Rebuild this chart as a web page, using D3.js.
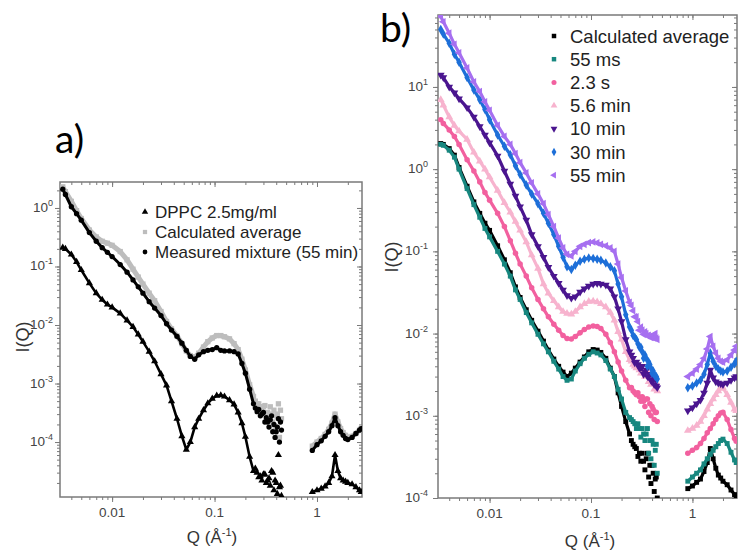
<!DOCTYPE html>
<html>
<head>
<meta charset="utf-8">
<script src="https://cdn.jsdelivr.net/npm/d3@7"></script>
<style>
  body { margin: 0; background: #fff; }
  text { font-family: "Liberation Sans", Arial, sans-serif; }
</style>
</head>
<body>
<svg id="chart" width="740" height="554"></svg>
<script>
// Q grids (1/A)
var qLow = [0.0033, 0.0035, 0.004, 0.0045, 0.005, 0.006, 0.007, 0.008, 0.009, 0.010,
  0.012, 0.014, 0.016, 0.018, 0.020, 0.023, 0.026, 0.030, 0.034, 0.038,
  0.043, 0.048, 0.053, 0.058, 0.064, 0.070, 0.078, 0.086, 0.095, 0.105,
  0.115, 0.125, 0.14, 0.155, 0.17, 0.185, 0.20, 0.22, 0.24, 0.27,
  0.30, 0.33, 0.36, 0.40, 0.44];
var qTail = [0.25, 0.26, 0.28, 0.29, 0.31, 0.32, 0.34, 0.35, 0.37, 0.38, 0.39, 0.41, 0.42, 0.43, 0.45];
var qHigh = [0.9, 1.0, 1.1, 1.2, 1.3, 1.4, 1.5, 1.6, 1.7, 1.8, 1.9, 2.0, 2.2, 2.4, 2.6, 2.7];

// panel a
var dppcLow = [0.21, 0.2, 0.16, 0.12, 0.087, 0.052, 0.035, 0.027, 0.0224, 0.02,
  0.0158, 0.012, 0.0093, 0.0069, 0.0052, 0.0035, 0.0024, 0.00145, 0.00093, 0.0005,
  0.00025, 0.000126, 0.000074, 0.0001, 0.00018, 0.00025, 0.00035, 0.00046, 0.00055, 0.00062,
  0.00063, 0.0006, 0.00052, 0.00044, 0.00032, 0.00021, 0.000123, 0.000056, 0.000032, 0.000025,
  0.000028, 0.000022, 0.000032, 0.00002, 0.000018];
var dppcTail = [0.000035, 0.00003, 0.000026, 0.000022, 0.000028, 0.00002, 0.000024, 0.000018, 0.00003, 0.000015, 0.000022, 0.000013, 0.00006, 0.000017, 0.000012];
var dppcHigh = [1.4e-5, 1.5e-5, 1.6e-5, 1.75e-5, 2.0e-5, 2.6e-5, 6.0e-5, 3.2e-5, 2.4e-5, 2.2e-5, 2.1e-5, 2.0e-5, 1.9e-5, 1.7e-5, 1.5e-5, 1.4e-5];
var avgALow = [2.3, 1.9, 1.3, 0.9, 0.66, 0.42, 0.32, 0.27, 0.25, 0.23,
  0.18, 0.13, 0.09, 0.066, 0.05, 0.035, 0.026, 0.017, 0.0115, 0.0086,
  0.0065, 0.0048, 0.0036, 0.003, 0.0028, 0.0033, 0.0042, 0.0052, 0.006, 0.0066,
  0.0066, 0.0063, 0.0058, 0.0048, 0.0038, 0.0026, 0.0017, 0.00095, 0.0006, 0.00045,
  0.0004, 0.00032, 0.0003, 0.00028, 0.00035];
var avgATail = [0.0005, 0.00045, 0.0004, 0.00035, 0.00042, 0.0003, 0.00025, 0.0004, 0.00022, 0.00035, 0.00018, 0.0003, 0.00045, 0.00012, 0.00025];
var avgAHigh = [8.5e-5, 1.0e-4, 1.15e-4, 1.35e-4, 1.65e-4, 2.1e-4, 3.0e-4, 2.2e-4, 1.7e-4, 1.45e-4, 1.3e-4, 1.2e-4, 1.25e-4, 1.4e-4, 1.6e-4, 1.7e-4];
var mixLow = [2.1, 1.7, 1.05, 0.8, 0.62, 0.38, 0.27, 0.21, 0.175, 0.148,
  0.108, 0.08, 0.059, 0.045, 0.035, 0.025, 0.0195, 0.0145, 0.0105, 0.0082,
  0.0064, 0.0049, 0.0037, 0.0029, 0.0026, 0.0031, 0.0035, 0.0037, 0.0038, 0.0041,
  0.0037, 0.0036, 0.0036, 0.0035, 0.0032, 0.0022, 0.0015, 0.0008, 0.00045, 0.00036,
  0.00032, 0.00022, 0.00028, 0.00015, 0.00022];
var mixTail = [0.00038, 0.00033, 0.00028, 0.0003, 0.00022, 0.00026, 0.00018, 0.00024, 0.00015, 0.0002, 0.00012, 0.00018, 0.00025, 0.0001, 0.00016];
var mixHigh = [7.2e-5, 9.0e-5, 1.05e-4, 1.25e-4, 1.5e-4, 1.9e-4, 2.6e-4, 1.9e-4, 1.5e-4, 1.3e-4, 1.15e-4, 1.1e-4, 1.2e-4, 1.4e-4, 1.6e-4, 1.7e-4];

// panel b
var avgBLow = [2.05, 2.0, 1.78, 1.48, 1.05, 0.62, 0.40, 0.29, 0.22, 0.18,
  0.117, 0.079, 0.055, 0.037, 0.0275, 0.0195, 0.0145, 0.0107, 0.0081, 0.0063,
  0.0049, 0.004, 0.0034, 0.003, 0.0033, 0.0038, 0.0045, 0.0052, 0.006, 0.0064,
  0.0063, 0.0059, 0.005, 0.0038, 0.003, 0.0019, 0.0013, 0.00085, 0.0006, 0.00042,
  0.00035, 0.00028, 0.00035, 0.00025, 0.00018];
var avgBTail = [0.0005, 0.00045, 0.0004, 0.00032, 0.00028, 0.00035, 0.00022, 0.0003, 0.00018, 0.00025, 0.00015, 0.0002, 0.00012, 0.00017, 0.0001];
var avgBHigh = [1.3e-4, 1.4e-4, 1.55e-4, 1.7e-4, 2.1e-4, 2.7e-4, 4.0e-4, 3.0e-4, 2.3e-4, 1.9e-4, 1.75e-4, 1.6e-4, 1.45e-4, 1.25e-4, 1.1e-4, 1.05e-4];
var ms55Low = [2.0, 1.95, 1.7, 1.4, 1.0, 0.58, 0.37, 0.26, 0.19, 0.15,
  0.10, 0.07, 0.05, 0.034, 0.026, 0.018, 0.0135, 0.0098, 0.0075, 0.006,
  0.0046, 0.0037, 0.003, 0.0027, 0.0028, 0.0035, 0.0043, 0.005, 0.0056, 0.006,
  0.0058, 0.0055, 0.0047, 0.0037, 0.003, 0.0021, 0.0016, 0.0011, 0.00095, 0.0008,
  0.0007, 0.0006, 0.0007, 0.0005, 0.00045];
var ms55Tail = [0.0009, 0.00085, 0.0007, 0.0008, 0.00055, 0.0007, 0.0005, 0.0006, 0.00035, 0.0005, 0.0003, 0.00045, 0.00025, 0.00038, 0.0002];
var ms55High = [1.6e-4, 1.8e-4, 2.0e-4, 2.2e-4, 2.6e-4, 3.0e-4, 3.4e-4, 3.8e-4, 4.2e-4, 4.6e-4, 5.0e-4, 5.2e-4, 4.6e-4, 3.6e-4, 2.9e-4, 2.7e-4];
var s23Low = [4.0, 3.6, 3.0, 2.5, 2.0, 1.3, 0.95, 0.7, 0.52, 0.42,
  0.29, 0.2, 0.135, 0.095, 0.07, 0.05, 0.036, 0.026, 0.02, 0.016,
  0.013, 0.011, 0.0095, 0.0087, 0.0086, 0.0092, 0.0102, 0.0112, 0.012, 0.0124,
  0.0122, 0.0115, 0.0098, 0.0078, 0.006, 0.0045, 0.0035, 0.0027, 0.0022, 0.0019,
  0.0017, 0.0015, 0.0016, 0.0013, 0.0011];
var s23Tail = [0.0022, 0.002, 0.0018, 0.0019, 0.0015, 0.0017, 0.0013, 0.0016, 0.0011, 0.0014, 0.001, 0.0012, 0.0009, 0.0011, 0.00085];
var s23High = [3.5e-4, 3.8e-4, 4.1e-4, 4.6e-4, 5.3e-4, 6.2e-4, 7.0e-4, 8.0e-4, 9.0e-4, 1.0e-3, 1.08e-3, 1.1e-3, 9.0e-4, 6.8e-4, 5.3e-4, 4.9e-4];
var m56Low = [7.0, 6.0, 4.3, 3.4, 2.9, 2.3, 1.6, 1.25, 1.0, 0.8,
  0.55, 0.39, 0.3, 0.23, 0.18, 0.13, 0.09, 0.062, 0.04, 0.031,
  0.025, 0.021, 0.0185, 0.0175, 0.0172, 0.0185, 0.021, 0.023, 0.0245, 0.0248,
  0.0242, 0.023, 0.021, 0.018, 0.0145, 0.0105, 0.0085, 0.006, 0.0048, 0.004,
  0.0036, 0.0033, 0.0035, 0.0028, 0.0025];
var m56Tail = [0.0046, 0.0042, 0.0038, 0.004, 0.0033, 0.0036, 0.003, 0.0034, 0.0026, 0.003, 0.0024, 0.0028, 0.0021, 0.0026, 0.002];
var m56High = [6.6e-4, 7.0e-4, 7.6e-4, 8.5e-4, 1.0e-3, 1.2e-3, 1.4e-3, 1.6e-3, 1.8e-3, 2.0e-3, 2.15e-3, 2.2e-3, 1.8e-3, 1.45e-3, 1.2e-3, 1.15e-3];
var m10Low = [14, 13, 10, 8.5, 7.2, 5.6, 4.3, 3.3, 2.6, 2.1,
  1.45, 0.95, 0.66, 0.47, 0.35, 0.24, 0.16, 0.115, 0.085, 0.064,
  0.05, 0.041, 0.034, 0.029, 0.027, 0.028, 0.032, 0.035, 0.038, 0.04,
  0.041, 0.04, 0.039, 0.035, 0.028, 0.02, 0.014, 0.0085, 0.006, 0.0044,
  0.0038, 0.0032, 0.003, 0.0026, 0.0023];
var m10Tail = [0.0055, 0.005, 0.0045, 0.0042, 0.0038, 0.004, 0.0034, 0.0036, 0.003, 0.0032, 0.0027, 0.003, 0.0024, 0.0028, 0.0022];
var m10High = [1.15e-3, 1.25e-3, 1.4e-3, 1.55e-3, 1.9e-3, 2.5e-3, 3.6e-3, 2.9e-3, 2.6e-3, 2.5e-3, 2.45e-3, 2.4e-3, 2.5e-3, 2.7e-3, 2.9e-3, 3.0e-3];
var m30Low = [50, 44, 34, 25, 20, 13, 9.2, 7.0, 5.3, 4.0,
  2.6, 1.9, 1.5, 1.1, 0.86, 0.64, 0.5, 0.38, 0.29, 0.22,
  0.16, 0.115, 0.085, 0.065, 0.06, 0.068, 0.076, 0.08, 0.083, 0.082,
  0.08, 0.078, 0.072, 0.065, 0.058, 0.04, 0.028, 0.017, 0.012, 0.009,
  0.0068, 0.005, 0.004, 0.0033, 0.003];
var m30Tail = [0.011, 0.0095, 0.0085, 0.0075, 0.0068, 0.006, 0.0055, 0.005, 0.0045, 0.0042, 0.0038, 0.0035, 0.0032, 0.003, 0.0028];
var m30High = [2.2e-3, 2.3e-3, 2.5e-3, 2.7e-3, 3.2e-3, 4.2e-3, 5.8e-3, 4.6e-3, 4.0e-3, 3.7e-3, 3.5e-3, 3.4e-3, 3.5e-3, 3.9e-3, 4.3e-3, 4.6e-3];
var m55Low = [72, 62, 45, 33, 26, 17, 11.5, 8.8, 6.6, 5.2,
  3.4, 2.5, 2.0, 1.55, 1.2, 0.9, 0.68, 0.5, 0.38, 0.28,
  0.2, 0.145, 0.11, 0.092, 0.088, 0.1, 0.115, 0.122, 0.128, 0.13,
  0.127, 0.122, 0.117, 0.11, 0.1, 0.07, 0.048, 0.033, 0.024, 0.016,
  0.011, 0.0098, 0.0094, 0.009, 0.0088];
var m55Tail = [0.022, 0.019, 0.016, 0.014, 0.012, 0.011, 0.0105, 0.01, 0.0095, 0.0092, 0.009, 0.0095, 0.0088, 0.01, 0.0085];
var m55High = [3.0e-3, 3.3e-3, 3.7e-3, 4.2e-3, 5.0e-3, 6.5e-3, 9.2e-3, 7.0e-3, 5.8e-3, 5.0e-3, 4.6e-3, 4.5e-3, 4.8e-3, 5.5e-3, 6.3e-3, 7.0e-3];

var xTicks = [0.01, 0.1, 1];
var xTickLabels = ["0.01", "0.1", "1"];
var yTicksA = [-4, -3, -2, -1, 0];
var yTicksB = [-4, -3, -2, -1, 0, 1];

var legendA = ["DPPC 2.5mg/ml", "Calculated average", "Measured mixture (55 min)"];
var legendB = ["Calculated average", "55 ms", "2.3 s", "5.6 min", "10 min", "30 min", "55 min"];

var svg = d3.select("#chart");
var axisColor = "#7a7a7a";

function symbolPath(shape, size) {
  var types = { tri: d3.symbolTriangle, down: d3.symbolTriangle, left: d3.symbolTriangle,
    square: d3.symbolSquare, circle: d3.symbolCircle, diamond: d3.symbolDiamond };
  return d3.symbol().type(types[shape]).size(size)();
}
function symbolRot(shape) {
  if (shape == "down") return " rotate(180)";
  if (shape == "left") return " rotate(-90)";
  return "";
}

function minorTicks(dom) {
  var out = [];
  var lo = Math.floor(Math.log10(dom[0])), hi = Math.ceil(Math.log10(dom[1]));
  for (var e = lo; e <= hi; e++) {
    for (var m = 1; m < 10; m++) {
      var v = m * Math.pow(10, e);
      if (v >= dom[0] && v <= dom[1]) out.push(v);
    }
  }
  return out;
}

function drawPanel(p) {
  var x = d3.scaleLog().domain([0.0031, 2.75]).range([p.left, p.right]);
  var y = d3.scaleLog().domain(p.yDomain).range([p.bottom, p.top]);
  var g = svg.append("g");

  var xMinor = minorTicks(x.domain()), yMinor = minorTicks(y.domain());
  var yMajor = p.yTicks.map(function(e) { return Math.pow(10, e); });

  function styleAxis(sel) {
    sel.select(".domain").remove();
    sel.selectAll("line").attr("stroke", axisColor).attr("stroke-width", 1);
  }
  g.append("g").attr("transform", "translate(0," + p.bottom + ")")
    .call(d3.axisBottom(x).tickValues(xMinor).tickSize(3).tickFormat("")).call(styleAxis);
  g.append("g").attr("transform", "translate(0," + p.bottom + ")")
    .call(d3.axisBottom(x).tickValues(xTicks).tickSize(5).tickFormat("")).call(styleAxis);
  g.append("g").attr("transform", "translate(0," + p.top + ")")
    .call(d3.axisTop(x).tickValues(xMinor).tickSize(-3).tickFormat("")).call(styleAxis);
  g.append("g").attr("transform", "translate(0," + p.top + ")")
    .call(d3.axisTop(x).tickValues(xTicks).tickSize(-5).tickFormat("")).call(styleAxis);
  g.append("g").attr("transform", "translate(" + p.left + ",0)")
    .call(d3.axisLeft(y).tickValues(yMinor).tickSize(3).tickFormat("")).call(styleAxis);
  g.append("g").attr("transform", "translate(" + p.left + ",0)")
    .call(d3.axisLeft(y).tickValues(yMajor).tickSize(5).tickFormat("")).call(styleAxis);
  g.append("g").attr("transform", "translate(" + p.right + ",0)")
    .call(d3.axisRight(y).tickValues(yMinor).tickSize(-3).tickFormat("")).call(styleAxis);
  g.append("g").attr("transform", "translate(" + p.right + ",0)")
    .call(d3.axisRight(y).tickValues(yMajor).tickSize(-5).tickFormat("")).call(styleAxis);

  g.append("rect").attr("x", p.left).attr("y", p.top)
    .attr("width", p.right - p.left).attr("height", p.bottom - p.top)
    .attr("fill", "none").attr("stroke", axisColor).attr("stroke-width", 1.5);

  // tick labels
  g.selectAll(".xl").data(xTicks).enter().append("text")
    .attr("x", function(d) { return x(d); }).attr("y", p.bottom + 20)
    .attr("text-anchor", "middle").attr("font-size", 13.5).attr("fill", "#444")
    .text(function(d, i) { return xTickLabels[i]; });
  var yl = g.selectAll(".yl").data(p.yTicks).enter().append("text")
    .attr("x", p.left - p.yLabelGap).attr("y", function(d) { return y(Math.pow(10, d)) + 4; })
    .attr("text-anchor", "end").attr("font-size", 13.5).attr("fill", "#444");
  yl.append("tspan").text("10");
  yl.append("tspan").attr("font-size", 9).attr("dy", -6).text(function(d) { return d; });

  // axis titles
  g.append("text").attr("transform", "translate(" + p.yTitleX + "," + p.yTitleY + ") rotate(-90)")
    .attr("text-anchor", "middle").attr("font-size", 18).attr("fill", "#333").text("I(Q)");
  var xt = g.append("text").attr("x", p.xTitleX).attr("y", p.xTitleY)
    .attr("text-anchor", "middle").attr("font-size", 17).attr("fill", "#333");
  xt.append("tspan").text("Q (\u00C5");
  xt.append("tspan").attr("font-size", 11).attr("dy", -7).text("-1");
  xt.append("tspan").attr("dy", 7).text(")");

  g.append("text").attr("x", p.tagX).attr("y", p.tagY).attr("font-size", 39)
    .attr("fill", "#000").style("font-family", "Lato, 'Open Sans', sans-serif").text(p.tag);

  // data
  var clipId = "clip" + p.tag.charAt(0);
  svg.append("clipPath").attr("id", clipId).append("rect")
    .attr("x", p.left).attr("y", p.top).attr("width", p.right - p.left).attr("height", p.bottom - p.top);
  var dg = g.append("g").attr("clip-path", "url(#" + clipId + ")");
  var line = d3.line().x(function(d) { return x(d.q); }).y(function(d) { return y(d.v); })
    .defined(function(d) { return d.q <= 0.25 || d.q >= 0.85; });

  p.series.forEach(function(s) {
    [[qLow, s.low, true], [qTail, s.tail, false], [qHigh, s.high, true]].forEach(function(set) {
      var pts = set[0].map(function(q, i) { return { q: q, v: set[1][i] }; });
      if (set[2]) {
        dg.append("path").datum(pts).attr("d", line).attr("fill", "none")
          .attr("stroke", s.color).attr("stroke-width", s.lw).attr("stroke-linejoin", "round");
      }
      dg.selectAll(null).data(pts).enter().append("path")
        .attr("d", symbolPath(s.shape, s.size))
        .attr("transform", function(d) { return "translate(" + x(d.q) + "," + y(d.v) + ")" + symbolRot(s.shape); })
        .attr("fill", s.color);
    });
  });

  // legend
  p.legendOrder.forEach(function(k, i) {
    var s = p.series[k];
    var ly = p.legY + i * p.legStep;
    g.append("path").attr("d", symbolPath(s.shape, p.legSym))
      .attr("transform", "translate(" + p.legX + "," + ly + ")" + symbolRot(s.shape))
      .attr("fill", s.color);
    g.append("text").attr("x", p.legX + p.legTextGap).attr("y", ly + p.legFont * 0.36)
      .attr("font-size", p.legFont).attr("fill", "#222").text(p.legend[i]);
  });
}

drawPanel({
  tag: "a)", tagX: 55, tagY: 153,
  left: 60, right: 362, top: 182, bottom: 497, yDomain: [1.15e-5, 2.78], yTicks: yTicksA,
  yLabelGap: 7, yTitleX: 28.5, yTitleY: 337, xTitleX: 212, xTitleY: 543,
  legend: legendA, legendOrder: [2, 0, 1], legX: 145, legY: 212, legStep: 20, legFont: 17, legSym: 18, legTextGap: 10,
  series: [
    { low: avgALow, tail: avgATail, high: avgAHigh, color: "#bdbdbd", shape: "square", size: 28, lw: 5 },
    { low: mixLow, tail: mixTail, high: mixHigh, color: "#000", shape: "circle", size: 22, lw: 3 },
    { low: dppcLow, tail: dppcTail, high: dppcHigh, color: "#000", shape: "tri", size: 22, lw: 2.6 }
  ]
});

drawPanel({
  tag: "b)", tagX: 380, tagY: 42,
  left: 438, right: 737, top: 15, bottom: 498, yDomain: [1e-4, 75], yTicks: yTicksB,
  yLabelGap: 10, yTitleX: 397.5, yTitleY: 257, xTitleX: 590, xTitleY: 547,
  legend: legendB, legendOrder: [0, 1, 2, 3, 4, 5, 6], legX: 554, legY: 36, legStep: 23.2, legFont: 18.5, legSym: 20, legTextGap: 16,
  series: [
    { low: avgBLow, tail: avgBTail, high: avgBHigh, color: "#000", shape: "square", size: 24, lw: 3.2 },
    { low: ms55Low, tail: ms55Tail, high: ms55High, color: "#17877f", shape: "square", size: 24, lw: 3.2 },
    { low: s23Low, tail: s23Tail, high: s23High, color: "#f2609f", shape: "circle", size: 24, lw: 3.2 },
    { low: m56Low, tail: m56Tail, high: m56High, color: "#f7b3ce", shape: "tri", size: 26, lw: 3.2 },
    { low: m10Low, tail: m10Tail, high: m10High, color: "#4a158f", shape: "down", size: 26, lw: 3.2 },
    { low: m30Low, tail: m30Tail, high: m30High, color: "#1d6fd8", shape: "diamond", size: 26, lw: 3.2 },
    { low: m55Low, tail: m55Tail, high: m55High, color: "#a66ff0", shape: "left", size: 26, lw: 3.2 }
  ]
});
</script>
</body>
</html>
